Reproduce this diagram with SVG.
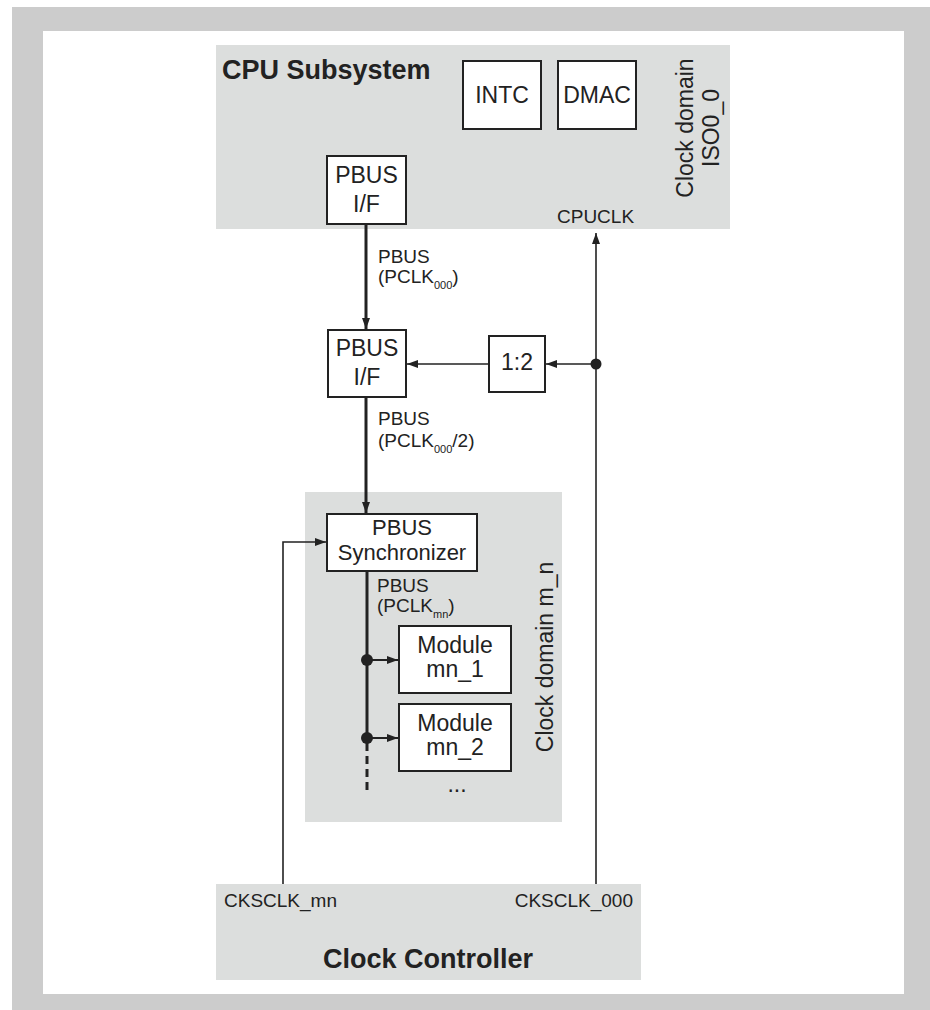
<svg xmlns="http://www.w3.org/2000/svg" width="930" height="1010" viewBox="0 0 930 1010">
<style>
.frame{fill:#cccccc}
.area{fill:#dcdedd}
.box{fill:#ffffff;stroke:#222;stroke-width:2}
.t{font-family:"Liberation Sans",Arial,sans-serif;fill:#222}
.big{font-size:23px}
.mid{font-size:22px}
.lbl{font-size:19px}
.hdr{font-size:27px;font-weight:bold}
.sub{font-size:11px}
.thin{fill:none;stroke:#222;stroke-width:1.6}
.thick{fill:none;stroke:#222;stroke-width:3}
</style>
<defs>
<marker id="ah" markerUnits="userSpaceOnUse" markerWidth="12" markerHeight="10" refX="11" refY="4" orient="auto">
<path d="M0,0 L11,4 L0,8 z" fill="#222"/>
</marker>
</defs>
<rect class="frame" x="12" y="7" width="918" height="1003"/>
<rect x="43" y="31" width="861" height="963" fill="#fff"/>

<g id="cpu-subsystem">
<rect class="area" x="216" y="45" width="514" height="184"/>
<text class="t hdr" x="222" y="79">CPU Subsystem</text>
<text class="t big" text-anchor="middle" transform="translate(693,128) rotate(-90)">Clock domain</text>
<text class="t big" text-anchor="middle" transform="translate(719,128) rotate(-90)">ISO0_0</text>
<text class="t lbl" x="557" y="223">CPUCLK</text>
</g>
<g id="intc">
<rect class="box" x="463" y="61" width="78" height="68"/>
<text class="t big" x="502" y="103" text-anchor="middle">INTC</text>
</g>
<g id="dmac">
<rect class="box" x="558" y="61" width="78" height="68"/>
<text class="t big" x="597" y="103" text-anchor="middle">DMAC</text>
</g>
<g id="pbus-if-cpu">
<rect class="box" x="327" y="156" width="79" height="68"/>
<text class="t big" x="366.5" y="183" text-anchor="middle">PBUS</text>
<text class="t big" x="366.5" y="212" text-anchor="middle">I/F</text>
</g>
<g id="pbus-if-2">
<rect class="box" x="328" y="330" width="78" height="67"/>
<text class="t big" x="367" y="356" text-anchor="middle">PBUS</text>
<text class="t big" x="367" y="385" text-anchor="middle">I/F</text>
</g>
<g id="divider">
<rect class="box" x="489" y="336" width="56" height="56"/>
<text class="t big" x="517" y="370" text-anchor="middle">1:2</text>
</g>
<g id="clock-domain-mn">
<rect class="area" x="305" y="492" width="257" height="330"/>
<text class="t big" text-anchor="middle" transform="translate(553,657) rotate(-90)">Clock domain m_n</text>
<text class="t big" x="457" y="792" text-anchor="middle">...</text>
</g>
<g id="pbus-synchronizer">
<rect class="box" x="327" y="514" width="150" height="57"/>
<text class="t mid" x="402" y="535" text-anchor="middle">PBUS</text>
<text class="t mid" x="402" y="560" text-anchor="middle">Synchronizer</text>
</g>
<g id="module-mn1">
<rect class="box" x="399" y="626" width="112" height="67"/>
<text class="t big" x="455" y="653" text-anchor="middle">Module</text>
<text class="t big" x="455" y="677" text-anchor="middle">mn_1</text>
</g>
<g id="module-mn2">
<rect class="box" x="399" y="704" width="112" height="67"/>
<text class="t big" x="455" y="731" text-anchor="middle">Module</text>
<text class="t big" x="455" y="755" text-anchor="middle">mn_2</text>
</g>
<g id="clock-controller">
<rect class="area" x="216" y="884" width="425" height="96"/>
<text class="t lbl" x="224" y="907">CKSCLK_mn</text>
<text class="t lbl" x="633" y="907" text-anchor="end">CKSCLK_000</text>
<text class="t hdr" x="428" y="968" text-anchor="middle">Clock Controller</text>
</g>

<g id="connectors">
<path class="thick" d="M366,224 V329" marker-end="url(#ah)"/>
<path class="thick" d="M366,397 V513" marker-end="url(#ah)"/>
<path class="thick" d="M367,571 V743"/>
<path class="thick" d="M367,743 V795" stroke-dasharray="8,5"/>
<path class="thin" style="stroke-width:2" d="M367,660 H398" marker-end="url(#ah)"/>
<path class="thin" style="stroke-width:2" d="M367,738 H398" marker-end="url(#ah)"/>
<circle cx="367" cy="660" r="6" fill="#222"/>
<circle cx="367" cy="738" r="6" fill="#222"/>
<path class="thin" d="M596,884 V233" marker-end="url(#ah)"/>
<path class="thin" d="M596,364 H546" marker-end="url(#ah)"/>
<circle cx="596" cy="364" r="5.5" fill="#222"/>
<path class="thin" d="M489,364 H407" marker-end="url(#ah)"/>
<path class="thin" d="M283,884 V542 H326" marker-end="url(#ah)"/>
<text class="t lbl" x="378" y="263">PBUS</text>
<text class="t lbl" x="378" y="283">(PCLK<tspan class="sub" dy="6">000</tspan><tspan dy="-6">)</tspan></text>
<text class="t lbl" x="378" y="425">PBUS</text>
<text class="t lbl" x="378" y="447">(PCLK<tspan class="sub" dy="6">000</tspan><tspan dy="-6">/2)</tspan></text>
<text class="t lbl" x="377" y="592">PBUS</text>
<text class="t lbl" x="377" y="612">(PCLK<tspan class="sub" dy="6">mn</tspan><tspan dy="-6">)</tspan></text>
</g>
</svg>
